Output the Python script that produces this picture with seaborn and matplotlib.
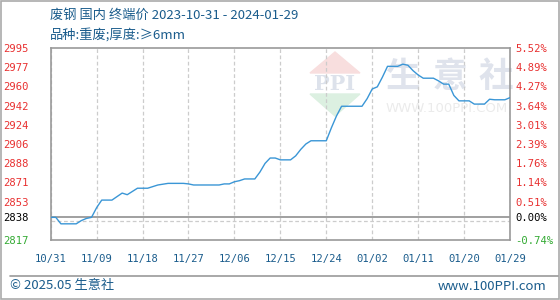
import matplotlib
matplotlib.use("Agg")
import matplotlib.pyplot as plt
from matplotlib.patches import Polygon, Rectangle
import seaborn as sns
import pandas as pd
import numpy as np

# ---- data ----
start_date = "2023-10-31"
day_offsets = [0, 1, 2, 5, 6, 7, 8, 9, 10, 12, 14, 15, 17, 19, 21, 23, 26, 27, 28, 33, 34, 35,
               36, 37, 38, 40, 41, 42, 43, 44, 45, 47, 48, 49, 50, 51, 54, 55, 56, 57, 61, 62,
               63, 64, 65, 66, 68, 69, 70, 71, 72, 73, 75, 76, 77, 78, 79, 80, 82, 83, 85, 86,
               87, 89, 90]
prices = [2838, 2838, 2832, 2832, 2835, 2837, 2838, 2847, 2854, 2854, 2860.5, 2859, 2865, 2865,
          2868, 2869.5, 2869.5, 2869, 2868, 2868, 2869, 2869, 2871, 2872, 2873.6, 2873.6, 2880,
          2888, 2893, 2893, 2891.3, 2891.3, 2895, 2901, 2906, 2909, 2909, 2921, 2932, 2941,
          2941, 2948, 2957, 2959, 2968, 2978, 2978, 2980, 2979, 2974, 2970, 2967, 2967, 2964.5,
          2961.5, 2961.5, 2951, 2946, 2946, 2943, 2943, 2947.5, 2947, 2947, 2949]

base_price = 2838
y_min, y_max = 2817, 2995
left_tick_values = [2817, 2838, 2852.6, 2870.4, 2888.2, 2906, 2923.8, 2941.6, 2959.4, 2977.2, 2995]
left_tick_labels = ["2817", "2838", "2853", "2871", "2888", "2906", "2924", "2942", "2960", "2977", "2995"]
right_tick_labels = ["-0.74%", "0.00%", "0.51%", "1.14%", "1.76%", "2.39%", "3.01%", "3.64%",
                     "4.27%", "4.89%", "5.52%"]
x_tick_labels = ["10/31", "11/09", "11/18", "11/27", "12/06", "12/15", "12/24", "01/02",
                 "01/11", "01/20", "01/29"]
x_tick_step_days = 9
title_line1 = "废钢 国内 终端价 2023-10-31 - 2024-01-29"
title_line2 = "品种:重废;厚度:≥6mm"
footer_left = "© 2025.05 生意社"
footer_right = "www.100PPI.com"
watermark_chars = ["生", "意", "社"]
watermark_url = "WWW.100PPI.COM"

dates = pd.to_datetime(start_date) + pd.to_timedelta(day_offsets, unit="D")
df = pd.DataFrame({"date": dates, "price": prices})

# ---- style ----
sns.set_style("white")
plt.rcParams["font.family"] = ["Noto Sans CJK SC", "DejaVu Sans"]

W, H = 560, 300
fig = plt.figure(figsize=(W / 100, H / 100), dpi=100)

def fx(px):
    return px / W

def fy(py):
    return 1 - py / H

ax_l, ax_r, ax_t, ax_b = 50.7, 510, 48, 240
ax = fig.add_axes([fx(ax_l), fy(ax_b), fx(ax_r - ax_l), (ax_b - ax_t) / H])
ax.set_facecolor("white")

# watermark, drawn inside the axes beneath the grid
tf = fig.transFigure
ax.add_patch(Polygon([(fx(310), fy(73)), (fx(360), fy(73)), (fx(335), fy(52))],
                     closed=True, transform=tf, color="#f8dede", zorder=0.1))
ax.add_patch(Polygon([(fx(310), fy(94)), (fx(360), fy(94)), (fx(335), fy(116))],
                     closed=True, transform=tf, color="#dcf0e1", zorder=0.1))
ax.text(fx(335), fy(84), "PPI", transform=tf, ha="center", va="center", fontsize=15,
        color="#dde2eb", family="DejaVu Serif", fontweight="bold", zorder=0.2)
for cx, ch in zip([403, 450, 496], watermark_chars):
    ax.text(fx(cx), fy(76), ch, transform=tf, ha="center", va="center", fontsize=25,
            color="#dfe3ec", fontweight="bold", zorder=0.2)
ax.text(fx(447), fy(108), watermark_url, transform=tf, ha="center", va="center", fontsize=9.5,
        color="#ebebeb", family="DejaVu Sans", zorder=0.2)

line_color = "#3a96d6"
sns.lineplot(data=df, x="date", y="price", ax=ax, color=line_color, linewidth=1.0, zorder=5)

# axis ranges
x0 = pd.to_datetime(start_date)
x_ticks = [x0 + pd.Timedelta(days=i * x_tick_step_days) for i in range(len(x_tick_labels))]
ax.set_xlim(x_ticks[0], x_ticks[-1])
ax.set_ylim(y_min, y_max)

# grid
grid_values = np.linspace(y_min, y_max, 11)
ax.set_yticks(grid_values, minor=True)
ax.grid(which="minor", axis="y", color="#cccccc", linestyle=(0, (3, 2)), linewidth=0.9)
ax.set_yticks(left_tick_values)
ax.set_yticklabels(left_tick_labels)
ax.grid(which="major", axis="y", visible=False)
ax.set_xticks(x_ticks)
ax.set_xticklabels(x_tick_labels)
ax.grid(which="major", axis="x", color="#cccccc", linestyle=(0, (3, 2)), linewidth=0.9)
ax.axhline(base_price, color="#999999", linewidth=1.3, zorder=3)

ax.set_xlabel("")
ax.set_ylabel("")
for s in ax.spines.values():
    s.set_color("#999999")
    s.set_linewidth(1.2)

mono = "DejaVu Sans Mono"
ax.tick_params(axis="y", which="both", length=0, pad=16)
ax.tick_params(axis="x", length=0, pad=10)
for lbl in ax.get_yticklabels():
    lbl.set_family(mono)
    lbl.set_fontsize(7.6)
for lbl in ax.get_xticklabels():
    lbl.set_family(mono)
    lbl.set_fontsize(7.6)
    lbl.set_color("#1a5c8c")

def tick_color(v):
    if abs(v - base_price) < 0.5:
        return "black"
    return "#e83030" if v > base_price else "#33aa33"

for lbl, v in zip(ax.get_yticklabels(), left_tick_values):
    lbl.set_color(tick_color(v))

ax2 = ax.twinx()
ax2.set_ylim(y_min, y_max)
ax2.set_yticks(left_tick_values)
ax2.set_yticklabels(right_tick_labels)
ax2.tick_params(axis="y", length=0, pad=4)
for s in ax2.spines.values():
    s.set_visible(False)
for lbl, v in zip(ax2.get_yticklabels(), left_tick_values):
    lbl.set_family(mono)
    lbl.set_fontsize(7.6)
    lbl.set_color(tick_color(v))

# titles
title_color = "#1a5c8c"
fig.text(fx(50), fy(15), title_line1, ha="left", va="center", fontsize=9.5, color=title_color)
fig.text(fx(50), fy(35), title_line2, ha="left", va="center", fontsize=9.5, color=title_color)

# footer
fig.add_artist(plt.Line2D([fx(10), fx(558)], [fy(275.5), fy(275.5)], transform=tf,
                          color="#999999", linewidth=1.2))
fig.text(fx(10), fy(286), footer_left, ha="left", va="center", fontsize=9.5, color=title_color)
fig.text(fx(546), fy(287), footer_right, ha="right", va="center", fontsize=9.5, color=title_color)

# frame
fig.patches.append(Rectangle((0.001, 0.002), 0.997, 0.996, transform=tf,
                             fill=False, edgecolor="#aaaaaa", linewidth=1.2))

fig.savefig("out.png", dpi=100)
